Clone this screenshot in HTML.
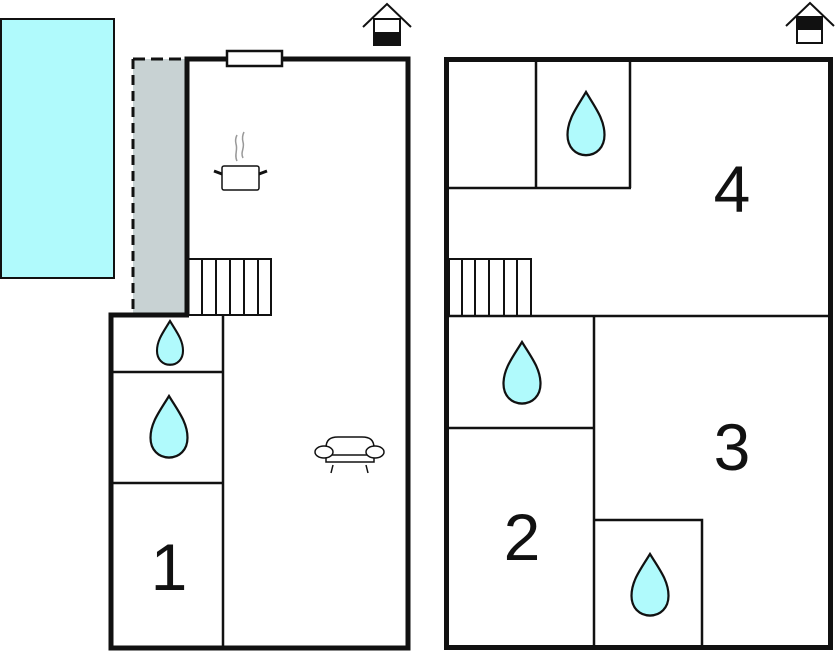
<!DOCTYPE html>
<html><head><meta charset="utf-8"><style>html,body{margin:0;padding:0;background:#fff;}svg{display:block;}</style></head>
<body>
<svg width="836" height="652" viewBox="0 0 836 652" xmlns="http://www.w3.org/2000/svg">
<defs>
<path id="d" d="M0,-1 C0.25,-0.6 0.5,-0.3 0.5,0.1 C0.5,0.42 0.28,0.62 0,0.62 C-0.28,0.62 -0.5,0.42 -0.5,0.1 C-0.5,-0.3 -0.25,-0.6 0,-1 Z"/>
</defs>
<!-- pool -->
<rect x="1" y="19" width="113" height="259" fill="#b0fafc" stroke="#111" stroke-width="2"/>
<!-- gray terrace -->
<rect x="133" y="59" width="53" height="256" fill="#c8d2d3"/>
<line x1="133" y1="59" x2="133" y2="315" stroke="#111" stroke-width="3" stroke-dasharray="10,6"/>
<line x1="133" y1="59" x2="186" y2="59" stroke="#111" stroke-width="3" stroke-dasharray="12,6"/>
<!-- left building walls -->
<g fill="none" stroke="#111" stroke-width="5">
<polyline points="187,315 187,59 408,59 408,648 111,648 111,315 189,315"/>
</g>
<rect x="227" y="51" width="55" height="15" fill="#fff" stroke="#111" stroke-width="2.5"/>
<g stroke="#111" stroke-width="2.5">
<line x1="223" y1="315" x2="223" y2="647"/>
<line x1="112" y1="372" x2="223" y2="372"/>
<line x1="112" y1="483" x2="223" y2="483"/>
</g>
<!-- stairs left -->
<g fill="none" stroke="#111" stroke-width="2">
<rect x="188" y="259" width="83" height="56"/>
<line x1="202" y1="259" x2="202" y2="315"/><line x1="216" y1="259" x2="216" y2="315"/>
<line x1="230" y1="259" x2="230" y2="315"/><line x1="244" y1="259" x2="244" y2="315"/>
<line x1="258" y1="259" x2="258" y2="315"/>
</g>
<!-- right building -->
<rect x="446.5" y="59.5" width="384" height="588" fill="none" stroke="#111" stroke-width="5"/>
<g stroke="#111" stroke-width="2.5">
<line x1="536" y1="60" x2="536" y2="188"/>
<line x1="630" y1="60" x2="630" y2="188"/>
<line x1="448" y1="188" x2="631" y2="188"/>
<line x1="448" y1="316" x2="829" y2="316"/>
<line x1="594" y1="316" x2="594" y2="647"/>
<line x1="448" y1="428" x2="594" y2="428"/>
<polyline points="594,520 702,520 702,647" fill="none"/>
</g>
<g fill="none" stroke="#111" stroke-width="2">
<rect x="449" y="259" width="82" height="57"/>
<line x1="462" y1="259" x2="462" y2="316"/><line x1="475" y1="259" x2="475" y2="316"/>
<line x1="489" y1="259" x2="489" y2="316"/><line x1="504" y1="259" x2="504" y2="316"/>
<line x1="517" y1="259" x2="517" y2="316"/>
</g>
<!-- drops -->
<g fill="#b0fafc" stroke="#111">
<use href="#d" transform="translate(170,348) scale(26,27)" stroke-width="0.08"/>
<use href="#d" transform="translate(169,434) scale(37,38)" stroke-width="0.06"/>
<use href="#d" transform="translate(586,131) scale(37,39)" stroke-width="0.06"/>
<use href="#d" transform="translate(522,380) scale(37,38)" stroke-width="0.06"/>
<use href="#d" transform="translate(650,592) scale(37,38)" stroke-width="0.06"/>
</g>
<!-- numbers -->
<g font-family="Liberation Sans, sans-serif" font-size="66" fill="#111" text-anchor="middle">
<text x="169" y="590">1</text>
<text x="522" y="560">2</text>
<text x="732" y="470">3</text>
<text x="732" y="212">4</text>
</g>
<!-- pot -->
<g stroke="#111" fill="#fff" stroke-width="1.5">
<rect x="222" y="166" width="37" height="24" rx="2"/>
<line x1="222" y1="174" x2="214" y2="171" stroke-width="3"/>
<line x1="259" y1="174" x2="267" y2="171" stroke-width="3"/>
</g>
<g stroke="#999" stroke-width="1.5" fill="none">
<path d="M237,161 C234,155 238,150 236,144 C235,140 236,137 237,135"/>
<path d="M243,158 C240,152 245,148 243,142 C242,138 243,134 244,132"/>
</g>
<!-- sofa -->
<g stroke="#111" fill="#fff" stroke-width="1.5">
<line x1="333" y1="465" x2="331" y2="473"/><line x1="366" y1="465" x2="368" y2="473"/>
<path d="M326,448 C326,440 330,437 338,437 L362,437 C370,437 374,440 374,448 L374,462 L326,462 Z"/>
<line x1="326" y1="455" x2="374" y2="455"/>
<ellipse cx="324" cy="452" rx="9" ry="6"/>
<ellipse cx="375" cy="452" rx="9" ry="6"/>
</g>
<!-- house icons -->
<g stroke="#111" stroke-width="2" fill="none">
<polyline points="363,27 387,4 411,27"/>
<rect x="374" y="19" width="26" height="26" fill="#fff"/>
<rect x="374" y="33" width="26" height="12" fill="#111"/>
<polyline points="786,26 810,3 834,26"/>
<rect x="797" y="17" width="25" height="26" fill="#fff"/>
<rect x="797" y="17" width="25" height="12" fill="#111"/>
</g>
</svg>
</body></html>
